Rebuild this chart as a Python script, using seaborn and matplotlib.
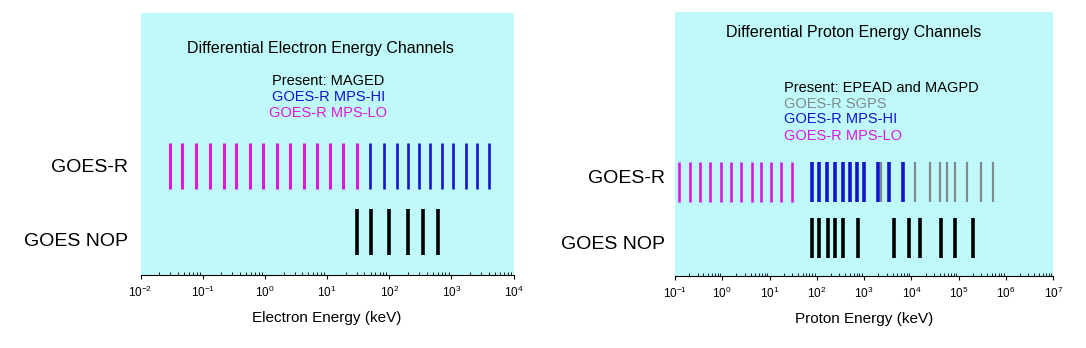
import pandas as pd
import matplotlib.pyplot as plt
import seaborn as sns

# Channel energies (keV)
elec_mps_lo = [0.03, 0.047, 0.079, 0.13, 0.22, 0.34, 0.57, 0.94, 1.55, 2.5, 4.2, 6.8, 11, 18, 30]
elec_mps_hi = [49, 81, 132, 204, 300, 456, 700, 1080, 1690, 2570, 4020]
elec_maged = [30, 50, 100, 200, 350, 600]

prot_mps_lo = [0.124, 0.21, 0.344, 0.56, 0.93, 1.54, 2.54, 4.2, 6.75, 11, 17.9, 29.2]
prot_mps_hi = [81, 114, 163, 241, 350, 509, 707, 1010, 1940, 3310, 6800]
prot_sgps = [2285, 12200, 25400, 40100, 57500, 82200, 153000, 293000, 535000]
prot_nop = [81, 112, 174, 248, 356, 754, 4315, 8980, 15600, 41500, 85100, 205000]

row_labels = ["GOES-R", "GOES NOP"]

BG = "#BFF9F9"
MAGENTA = "#DD18DD"
BLUE = "#1414CC"
GRAY = "#808A8A"

sns.set_style("white")
plt.rcParams["font.family"] = ["Liberation Sans", "DejaVu Sans"]
plt.rcParams["mathtext.fontset"] = "custom"
plt.rcParams["mathtext.rm"] = "Liberation Sans"
plt.rcParams["text.color"] = "black"
plt.rcParams["axes.labelcolor"] = "black"
plt.rcParams["xtick.color"] = "black"
plt.rcParams["ytick.color"] = "black"

fig = plt.figure(figsize=(10.86, 3.48), dpi=100)
ax1 = fig.add_axes([0.1294, 0.2098, 0.3435, 0.7537])
ax2 = fig.add_axes([0.6215, 0.2069, 0.3483, 0.7595])


def draw_rows(ax, series, size):
    # series: list of (energies, row_y, colour, width)
    for vals, y, color, lw in series:
        df = pd.DataFrame({"energy": vals, "row": [y] * len(vals)})
        sns.scatterplot(data=df, x="energy", y="row", ax=ax, marker="|",
                        s=size, color=color, linewidth=lw, legend=False)


def style_axes(ax, xlim, label, ytick_pos, ypad):
    ax.set_facecolor(BG)
    ax.set_xscale("log")
    ax.set_xlim(*xlim)
    ax.set_ylim(0, 1)
    for side in ["top", "right", "left"]:
        ax.spines[side].set_visible(False)
    ax.spines["bottom"].set_color("black")
    ax.spines["bottom"].set_linewidth(0.8)
    ax.tick_params(axis="x", which="major", direction="out", length=3, width=0.8,
                   labelsize=8.5, pad=4, bottom=True)
    ax.tick_params(axis="x", which="minor", direction="in", length=2, width=0.6, bottom=True)
    ax.set_xlabel(label, fontsize=11, labelpad=8)
    ax.set_ylabel("")
    ax.set_yticks(ytick_pos)
    ax.set_yticklabels(row_labels, fontsize=14)
    ax.tick_params(axis="y", length=0, pad=ypad)


# electrons
draw_rows(ax1, [
    (elec_mps_lo, 0.414, MAGENTA, 2.2),
    (elec_mps_hi, 0.414, BLUE, 1.9),
    (elec_maged, 0.165, "black", 2.6),
], size=33.5 ** 2)
style_axes(ax1, (1e-2, 1e4), "Electron Energy (keV)", [0.418, 0.137], 9)
ax1.text(0.483, 0.862, "Differential Electron Energy Channels", transform=ax1.transAxes,
         ha="center", va="center", fontsize=11.5)
for txt, c, y in [("Present: MAGED", "black", 0.74),
                  ("GOES-R MPS-HI", BLUE, 0.679),
                  ("GOES-R MPS-LO", MAGENTA, 0.619)]:
    ax1.text(0.503, y, txt, color=c, transform=ax1.transAxes, ha="center", va="center", fontsize=10.5)

# protons
draw_rows(ax2, [
    (prot_mps_lo, 0.357, MAGENTA, 1.9),
    (prot_sgps, 0.357, GRAY, 1.6),
    (prot_mps_hi, 0.357, BLUE, 2.6),
    (prot_nop, 0.1426, "black", 2.6),
], size=29 ** 2)
style_axes(ax2, (1e-1, 1e7), "Proton Energy (keV)", [0.3746, 0.1286], 7)
ax2.text(0.4726, 0.923, "Differential Proton Energy Channels", transform=ax2.transAxes,
         ha="center", va="center", fontsize=11.5)
for txt, c, y in [("Present: EPEAD and MAGPD", "black", 0.7125),
                  ("GOES-R SGPS", GRAY, 0.651),
                  ("GOES-R MPS-HI", BLUE, 0.594),
                  ("GOES-R MPS-LO", MAGENTA, 0.53)]:
    ax2.text(0.288, y, txt, color=c, transform=ax2.transAxes, ha="left", va="center", fontsize=10.5)

fig.savefig("out.png", dpi=100)
